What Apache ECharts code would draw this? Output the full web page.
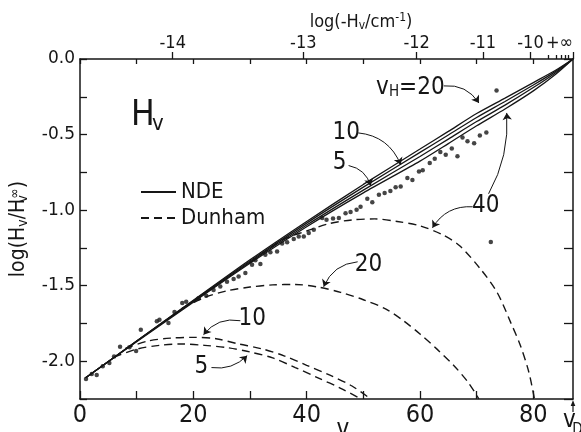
<!DOCTYPE html>
<html><head><meta charset="utf-8">
<script src="https://cdn.jsdelivr.net/npm/echarts@6/dist/echarts.min.js"></script>
<style>html,body{margin:0;padding:0;background:#fff}#c{width:581px;height:432px}</style>
</head><body><div id="c"></div>
<script>
const FONT = '"Liberation Sans Narrow","DejaVu Sans Condensed","Liberation Sans",sans-serif';
const INK = '#161616';

// NDE curves (solid), labelled by v_H
const ndeV  = [1, 10, 20, 30, 40, 50, 60, 65, 70, 75, 80, 84, 87];
const nde10 = [-2.11, -1.866, -1.597, -1.329, -1.075, -0.830, -0.596, -0.479, -0.361, -0.259, -0.156, -0.073, 0];
const nde5  = [-2.11, -1.866, -1.600, -1.337, -1.086, -0.848, -0.618, -0.503, -0.387, -0.281, -0.172, -0.080, 0];
const nde20 = [-2.11, -1.868, -1.604, -1.344, -1.099, -0.868, -0.645, -0.530, -0.414, -0.305, -0.189, -0.089, 0];
const nde40 = [-2.11, -1.871, -1.609, -1.352, -1.110, -0.886, -0.676, -0.560, -0.442, -0.331, -0.211, -0.099, 0];

// Dunham curves (dashed)
const dun5V  = [6, 10, 14, 18, 22, 26, 30, 34, 38, 42, 46, 49.6];
const dun5   = [-1.974, -1.920, -1.895, -1.886, -1.895, -1.910, -1.939, -1.978, -2.042, -2.110, -2.179, -2.25];
const dun10V = [8, 12, 16, 20, 24, 28, 32, 36, 40, 44, 48, 51.3];
const dun10  = [-1.915, -1.866, -1.847, -1.842, -1.851, -1.886, -1.917, -1.964, -2.027, -2.091, -2.164, -2.25];
const dun20V = [18, 22, 26, 30, 34, 38, 42, 46, 50, 54, 57, 60, 63, 66, 68.5, 70.4];
const dun20  = [-1.651, -1.578, -1.534, -1.509, -1.495, -1.492, -1.509, -1.544, -1.593, -1.655, -1.730, -1.820, -1.920, -2.030, -2.140, -2.25];
const dun40V = [30, 36, 40, 44, 48, 52, 56, 60, 64, 67, 70.7, 73.6, 76, 77.7, 79.2, 80.2];
const dun40  = [-1.348, -1.192, -1.138, -1.089, -1.065, -1.058, -1.075, -1.104, -1.163, -1.236, -1.391, -1.544, -1.743, -1.895, -2.071, -2.25];

// observed points
const dotV = [1.06, 2.07, 2.95, 4.01, 5.18, 6.01, 7.07, 8.72, 9.90, 10.73, 13.56, 14.02, 15.61, 16.68, 18.04, 18.74, 20.92, 22.28, 23.57, 24.76,
  25.94, 27.11, 27.99, 29.18, 30.36, 30.95, 31.83, 32.71, 33.60, 34.78, 35.67, 36.55, 37.72, 38.60, 39.49, 40.37, 41.26, 42.74, 43.50, 44.65,
  45.68, 46.86, 47.75, 48.81, 49.51, 50.70, 51.58, 52.75, 53.76, 54.77, 55.70, 56.59, 57.77, 58.66, 59.82, 60.48, 61.72, 62.60, 63.59, 64.54,
  65.61, 66.61, 67.50, 68.38, 69.55, 70.56, 71.71, 73.51, 72.50];
const dotY = [-2.117, -2.084, -2.091, -2.034, -2.011, -1.968, -1.904, -1.908, -1.932, -1.791, -1.736, -1.725, -1.747, -1.674, -1.615, -1.606, -1.583, -1.566, -1.529, -1.505,
  -1.474, -1.456, -1.439, -1.416, -1.362, -1.332, -1.356, -1.295, -1.279, -1.274, -1.221, -1.213, -1.191, -1.175, -1.174, -1.152, -1.130, -1.053, -1.064, -1.056,
  -1.053, -1.020, -1.013, -0.998, -0.978, -0.925, -0.948, -0.899, -0.886, -0.874, -0.848, -0.844, -0.788, -0.800, -0.745, -0.737, -0.689, -0.660, -0.615, -0.634,
  -0.592, -0.643, -0.519, -0.544, -0.557, -0.506, -0.486, -0.208, -1.211];

// axes ticks / labels
const xTickV = [0, 10, 20, 30, 40, 50, 60, 70, 80];
const xLabelV = [0, 20, 40, 60, 80];
const yTickV = [0, -0.25, -0.5, -0.75, -1, -1.25, -1.5, -1.75, -2, -2.25];
const yLabelV = [0, -0.5, -1, -1.5, -2];
const topTickV = [16.36, 39.4, 59.4, 71.1, 79.5, 87];
const topTickLabel = ['-14', '-13', '-12', '-11', '-10', '+\u221E'];
const topMinorV = [82.7, 84.1, 85.0, 85.7, 86.2];

// annotations (data coordinates)
const annoText = ['10', '5', '{a|v}{b|H}{a|=20}', '40', '20', '10', '5'];
const annoX = [47.0, 45.8, 58.3, 71.6, 50.9, 30.4, 21.4];
const annoY = [-0.489, -0.687, -0.192, -0.972, -1.362, -1.718, -2.036];
const arrowFrom = [[49.1, -0.489], [47.4, -0.705], [64.2, -0.178], [72.1, -0.892], [69.3, -0.978], [49.0, -1.342], [28.3, -1.732], [23.2, -2.042]];
const arrowTo   = [[56.6, -0.700], [51.3, -0.839], [70.4, -0.291], [75.3, -0.357], [62.2, -1.117], [43.0, -1.507], [21.8, -1.824], [29.5, -1.963]];
const arrowBend = [0.3, 0.3, 0.3, -0.15, -0.3, -0.3, -0.3, -0.25];

const pair = (xs, ys) => xs.map((x, i) => [x, ys[i]]);
const chart = echarts.init(document.getElementById('c'), null, {renderer: 'canvas'});

const ndeSeries = [nde10, nde5, nde20, nde40].map(arr => ({
  type: 'line', name: 'NDE', data: pair(ndeV, arr), symbol: 'none', showSymbol: false,
  smooth: 0.25, silent: true, z: 3,
  lineStyle: {color: INK, width: 1.3, type: 'solid'}, itemStyle: {color: INK}
}));
const dunSeries = [[dun5V, dun5], [dun10V, dun10], [dun20V, dun20], [dun40V, dun40]].map(([xs, ys]) => ({
  type: 'line', name: 'Dunham', data: pair(xs, ys), symbol: 'none', showSymbol: false,
  smooth: 0.3, silent: true, z: 3,
  lineStyle: {color: INK, width: 1.4, type: [8, 5]}, itemStyle: {color: INK}
}));

const axisLineStyle = {color: INK, width: 1.5};
const tickStyle = {color: INK, width: 1.3};

const option = {
  backgroundColor: '#fff',
  animation: false,
  grid: {left: 80, right: 8, top: 59, bottom: 33, containLabel: false, outerBoundsMode: 'none'},
  legend: {
    data: ['NDE', 'Dunham'], orient: 'vertical', left: 135, top: 176,
    itemWidth: 35, itemHeight: 10, itemGap: 4, selectedMode: false,
    itemStyle: {opacity: 0},
    textStyle: {fontFamily: FONT, fontSize: 22, color: INK, lineHeight: 17}
  },
  xAxis: [
    {type: 'value', position: 'bottom', min: 0, max: 87,
      axisLine: {show: true, onZero: false, lineStyle: axisLineStyle},
      axisTick: {show: true, inside: true, length: 8, customValues: xTickV, lineStyle: tickStyle},
      axisLabel: {customValues: xLabelV, margin: 4, fontSize: 25, fontFamily: FONT, color: INK},
      splitLine: {show: false}},
    {type: 'value', position: 'top', min: 0, max: 87,
      axisLine: {show: true, onZero: false, lineStyle: axisLineStyle},
      axisTick: {show: true, inside: true, length: 5, customValues: xTickV, lineStyle: tickStyle},
      axisLabel: {show: false}, splitLine: {show: false}},
    {type: 'value', position: 'top', min: 0, max: 87,
      axisLine: {show: false, onZero: false},
      axisTick: {show: true, inside: false, length: 7, customValues: topTickV, lineStyle: tickStyle},
      axisLabel: {customValues: topTickV, margin: 7, fontSize: 18, fontFamily: FONT, color: INK,
        alignMaxLabel: 'right', showMaxLabel: true,
        formatter: v => { const i = topTickV.findIndex(t => Math.abs(t - v) < 1e-6); return i >= 0 ? topTickLabel[i] : ''; }},
      splitLine: {show: false}},
    {type: 'value', position: 'top', min: 0, max: 87,
      axisLine: {show: false, onZero: false},
      axisTick: {show: true, inside: false, length: 4, customValues: topMinorV, lineStyle: tickStyle},
      axisLabel: {show: false}, splitLine: {show: false}}
  ],
  yAxis: [
    {type: 'value', position: 'left', min: -2.25, max: 0,
      axisLine: {show: true, onZero: false, lineStyle: axisLineStyle},
      axisTick: {show: true, inside: true, length: 7, customValues: yTickV, lineStyle: tickStyle},
      axisLabel: {customValues: yLabelV, margin: 5, fontSize: 17, fontFamily: '"DejaVu Sans",sans-serif', color: INK,
        formatter: v => (Math.abs(v) < 1e-9 ? 0 : v).toFixed(1)},
      splitLine: {show: false},
      name: '{m|log(H}{s|v}{m|/H}{z|v}{p|\u221E}{m|)}', nameLocation: 'middle', nameGap: 50, nameRotate: 90,
      nameTextStyle: {color: INK, rich: {
        m: {fontFamily: FONT, fontSize: 21, color: INK, lineHeight: 22},
        s: {fontFamily: FONT, fontSize: 14, color: INK, lineHeight: 9, verticalAlign: 'bottom'},
        z: {fontFamily: FONT, fontSize: 14, color: INK, lineHeight: 9, verticalAlign: 'bottom', width: 0.01},
        p: {fontFamily: FONT, fontSize: 14, color: INK, lineHeight: 9, verticalAlign: 'top'}
      }}},
    {type: 'value', position: 'right', min: -2.25, max: 0,
      axisLine: {show: true, onZero: false, lineStyle: axisLineStyle},
      axisTick: {show: true, inside: true, length: 9, customValues: yTickV, lineStyle: tickStyle},
      axisLabel: {show: false}, splitLine: {show: false}}
  ],
  series: [
    ...ndeSeries,
    ...dunSeries,
    {type: 'scatter', name: 'observed', data: pair(dotV, dotY), symbol: 'circle', symbolSize: 4.5,
      itemStyle: {color: INK}, z: 4, silent: true},
    {type: 'custom', name: 'labels', coordinateSystem: 'cartesian2d', silent: true, z: 5, clip: false,
      data: pair(annoX, annoY),
      renderItem: (params, api) => {
        const p = api.coord([api.value(0), api.value(1)]);
        return {type: 'text', x: p[0], y: p[1], style: {
          text: annoText[params.dataIndex], fontFamily: FONT, fontSize: 24, fill: INK,
          align: 'center', verticalAlign: 'middle',
          rich: {a: {fontFamily: FONT, fontSize: 24, fill: INK, lineHeight: 24},
                 b: {fontFamily: FONT, fontSize: 15, fill: INK, lineHeight: 10, verticalAlign: 'bottom'}}
        }};
      }},
    {type: 'lines', name: 'leaders', coordinateSystem: 'cartesian2d', xAxisIndex: 0, yAxisIndex: 0,
      symbol: ['none', 'arrow'], symbolSize: 7, silent: true, z: 5,
      lineStyle: {color: INK, width: 1, opacity: 1},
      data: arrowFrom.map((f, i) => ({coords: [f, arrowTo[i]], lineStyle: {curveness: arrowBend[i]}}))}
  ],
  graphic: [
    {type: 'text', x: 131, y: 115.5, style: {text: 'H', fontSize: 35, fontFamily: FONT, fill: INK, align: 'left', verticalAlign: 'middle'}},
    {type: 'text', x: 152, y: 124, style: {text: 'v', fontSize: 22, fontFamily: FONT, fill: INK, align: 'left', verticalAlign: 'middle'}},
    {type: 'text', x: 361, y: 22, style: {
      text: '{m|log(-H}{s|v}{m|/cm}{p|-1}{m|)}', align: 'center', verticalAlign: 'middle',
      rich: {
        m: {fontFamily: FONT, fontSize: 18, fill: INK, lineHeight: 20},
        s: {fontFamily: FONT, fontSize: 12, fill: INK, lineHeight: 8, verticalAlign: 'bottom'},
        p: {fontFamily: FONT, fontSize: 12, fill: INK, lineHeight: 8, verticalAlign: 'top'}
      }}},
    {type: 'text', x: 343, y: 430, style: {text: 'v', fontSize: 24, fontFamily: FONT, fill: INK, align: 'center', verticalAlign: 'middle'}},
    {type: 'line', shape: {x1: 573, y1: 412, x2: 573, y2: 404}, style: {stroke: INK, lineWidth: 1.2}},
    {type: 'polygon', shape: {points: [[573, 400], [570.7, 406], [575.3, 406]]}, style: {fill: INK}},
    {type: 'text', x: 569.5, y: 421, style: {text: 'v', fontSize: 24, fontFamily: FONT, fill: INK, align: 'center', verticalAlign: 'middle'}},
    {type: 'text', x: 577.5, y: 430, style: {text: 'D', fontSize: 15, fontFamily: FONT, fill: INK, align: 'center', verticalAlign: 'middle'}}
  ]
};
chart.setOption(option);
</script>
</body></html>
